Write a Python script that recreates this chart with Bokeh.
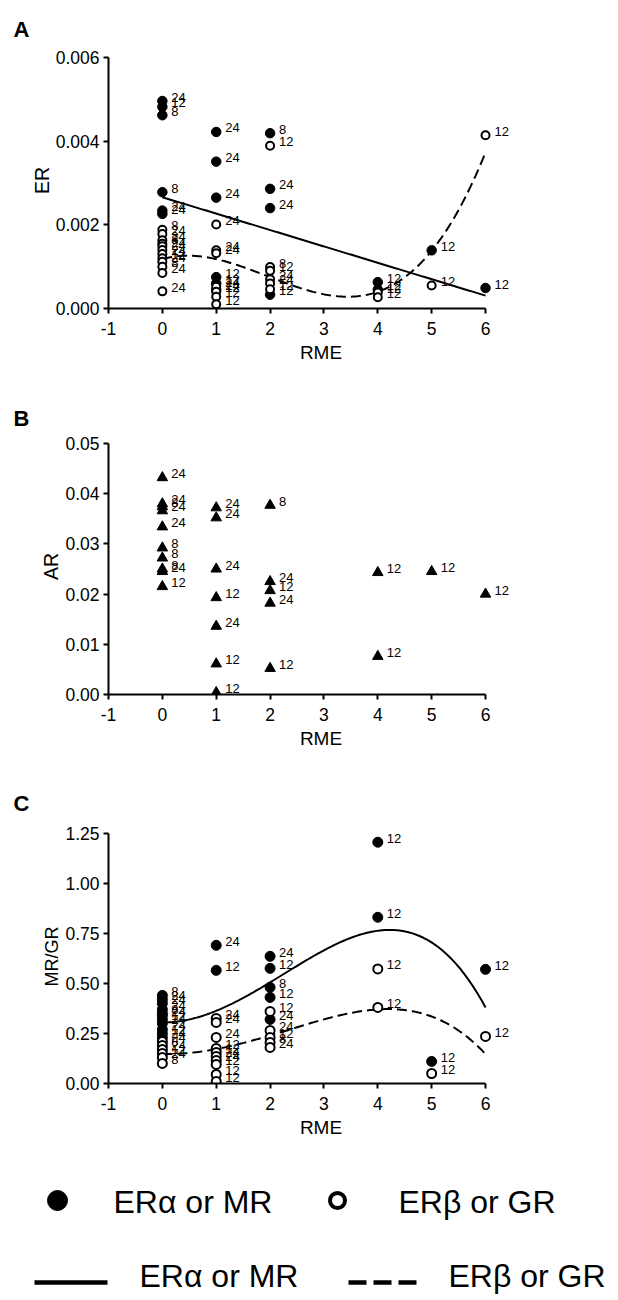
import numpy as np
from bokeh.plotting import figure
from bokeh.models import Range1d, FixedTicker, PrintfTickFormatter
from bokeh.layouts import column
from bokeh.embed import file_html
from bokeh.resources import INLINE
from bokeh.core.properties import value

FONT = "Liberation Sans"

# ---------------- data ----------------
rme_ticks = [-1, 0, 1, 2, 3, 4, 5, 6]

# Panel A : ER
a_ticks = [0.0, 0.002, 0.004, 0.006]
a_filled_x = [0, 0, 0, 0, 0, 0, 1, 1, 1, 1, 1, 1, 2, 2, 2, 2, 4, 4, 5, 6]
a_filled_y = [0.00496, 0.00482, 0.00462, 0.00278, 0.00234, 0.00226,
              0.00422, 0.00351, 0.00265, 0.00075, 0.00060, 0.00045,
              0.00419, 0.00286, 0.00240, 0.00033,
              0.00063, 0.00045, 0.00139, 0.00049]
a_filled_lab = ["24", "12", "8", "8", "24", "24",
                "24", "24", "24", "12", "12", "24",
                "8", "24", "24", "12",
                "12", "12", "12", "12"]
a_open_x = [0] * 12 + [1] * 7 + [2] * 6 + [4, 4, 5, 6]
a_open_y = [0.00188, 0.00178, 0.00163, 0.00155, 0.00149, 0.00140, 0.00130,
            0.00120, 0.00112, 0.00100, 0.00085, 0.00041,
            0.00201, 0.00139, 0.00132, 0.00052, 0.00040, 0.00028, 0.00010,
            0.00389, 0.00099, 0.00090, 0.00070, 0.00060, 0.00046,
            0.00038, 0.00027, 0.00055, 0.00414]
a_open_lab = ["8", "24", "24", "8", "24", "24", "24", "12", "24", "8", "24", "24",
              "24", "24", "24", "24", "12", "12", "12",
              "12", "8", "12", "24", "24", "12",
              "12", "12", "12", "12"]
a_solid_fit = [-0.000392, 0.00266]                    # linear fit (ERa)
a_dash_fit = [7.5e-5, -4.4e-4, 3.65e-4, 1.18e-3]      # cubic fit (ERb)

# Panel B : AR
b_ticks = [0.0, 0.01, 0.02, 0.03, 0.04, 0.05]
b_x = [0] * 10 + [1] * 7 + [2] * 5 + [4, 4, 5, 6]
b_y = [0.0432, 0.0380, 0.0374, 0.0366, 0.0334, 0.0292, 0.0272, 0.0250, 0.0245, 0.0215,
       0.0372, 0.0352, 0.0250, 0.0193, 0.0136, 0.0061, 0.0004,
       0.0377, 0.0225, 0.0207, 0.0182, 0.0052,
       0.0243, 0.0076, 0.0245, 0.0200]
b_lab = ["24", "24", "8", "24", "24", "8", "8", "8", "24", "12",
         "24", "24", "24", "12", "24", "12", "12",
         "8", "24", "12", "24", "12",
         "12", "12", "12", "12"]

# Panel C : MR/GR
c_ticks = [0.0, 0.25, 0.5, 0.75, 1.0, 1.25]
c_filled_x = [0] * 11 + [1] * 2 + [2] * 5 + [4, 4, 5, 6]
c_filled_y = [0.44, 0.42, 0.40, 0.37, 0.35, 0.34, 0.32, 0.30, 0.27, 0.25, 0.23,
              0.69, 0.565,
              0.635, 0.575, 0.48, 0.43, 0.32,
              1.205, 0.83, 0.11, 0.57]
c_filled_lab = ["8", "24", "24", "24", "8", "24", "12", "24", "24", "12", "24",
                "24", "12",
                "24", "12", "8", "12", "24",
                "12", "12", "12", "12"]
c_open_x = [0] * 6 + [1] * 10 + [2] * 5 + [4, 4, 5, 6]
c_open_y = [0.21, 0.19, 0.17, 0.15, 0.13, 0.10,
            0.325, 0.305, 0.23, 0.175, 0.155, 0.135, 0.115, 0.095, 0.045, 0.01,
            0.36, 0.265, 0.23, 0.205, 0.18,
            0.572, 0.38, 0.05, 0.235]
c_open_lab = ["24", "8", "24", "12", "24", "8",
              "24", "24", "24", "12", "12", "24", "24", "12", "12", "12",
              "12", "24", "12", "8", "24",
              "12", "12", "12", "12"]
c_solid_fit = [-0.000596, -0.007412, 0.068408, -0.0024, 0.305]   # MR fit
c_dash_fit = [-0.0005, -0.002125, 0.031375, -0.00375, 0.147]     # GR fit
fit_span = (0, 6)

legend_labels = ["ERα or MR", "ERβ or GR", "ERα or MR", "ERβ or GR"]

# ---------------- layout ----------------
W = 618
BL, BR = 108, 85
PX_PER_X = 53.86
X_END = -1 + (W - BL - BR) / PX_PER_X


def make_panel(height, top, frame_h, y_end, ticks, fmt, ylabel,
               ylabel_size, letter, letter_standoff):
    p = figure(width=W, height=height, output_backend="svg",
               toolbar_location=None,
               x_range=Range1d(-1, X_END), y_range=Range1d(0, y_end),
               min_border_left=BL, min_border_right=BR,
               min_border_top=top, min_border_bottom=height - top - frame_h)
    p.outline_line_color = None
    p.grid.visible = False
    p.background_fill_color = "white"
    p.title.text = letter
    p.title.align = "left"
    p.title.offset = -95
    p.title.standoff = letter_standoff
    p.title.text_font = FONT
    p.title.text_font_style = "bold"
    p.title.text_font_size = "22px"
    p.title.text_color = "black"
    xa, ya = p.xaxis[0], p.yaxis[0]
    xa.bounds = (-1, 6)
    xa.ticker = FixedTicker(ticks=rme_ticks)
    xa.formatter = PrintfTickFormatter(format="%d")
    ya.bounds = (0, ticks[-1])
    ya.ticker = FixedTicker(ticks=ticks)
    ya.formatter = PrintfTickFormatter(format=fmt)
    xa.axis_label = "RME"
    ya.axis_label = ylabel
    for ax in (xa, ya):
        ax.axis_line_width = 2
        ax.axis_line_color = "black"
        ax.major_tick_line_width = 2
        ax.major_tick_line_color = "black"
        ax.major_tick_out = 5
        ax.major_tick_in = 0
        ax.minor_tick_line_color = None
        ax.major_label_text_font = FONT
        ax.major_label_text_font_size = "17.5px"
        ax.major_label_text_color = "black"
        ax.axis_label_text_font = FONT
        ax.axis_label_text_font_style = "normal"
        ax.axis_label_text_color = "black"
    xa.major_label_standoff = 8
    ya.major_label_standoff = 4
    xa.axis_label_text_font_size = "19px"
    xa.axis_label_standoff = 4
    ya.axis_label_text_font_size = ylabel_size
    ya.axis_label_standoff = 0
    return p


def points(p, xs, ys, labs, kind, size):
    if kind == "filled":
        p.scatter(xs, ys, marker="circle", size=size, fill_color="black",
                  line_color="black", line_width=1)
    elif kind == "open":
        p.scatter(xs, ys, marker="circle", size=size, fill_color="white",
                  line_color="black", line_width=2)
    else:
        p.scatter(xs, ys, marker="triangle", size=size, fill_color="black",
                  line_color="black", line_width=1)
    p.text(xs, ys, text=labs, x_offset=9, y_offset=-4,
           text_font=value(FONT), text_font_size="13px",
           text_baseline="middle", text_align="left", text_color="black")


def fit_line(p, coef, dash):
    xs = np.linspace(fit_span[0], fit_span[1], 200)
    p.line(xs, np.polyval(coef, xs), line_color="black", line_width=2,
           line_dash=dash)


# Panel A
pA = make_panel(395, 52, 256, 0.0061195, a_ticks, "%.3f", "ER",
                "19.5px", "A", 21)
fit_line(pA, a_solid_fit, "solid")
fit_line(pA, a_dash_fit, "10 5")
points(pA, a_filled_x, a_filled_y, a_filled_lab, "filled", 9.5)
points(pA, a_open_x, a_open_y, a_open_lab, "open", 8)

# Panel B
pB = make_panel(375, 43, 256, 0.051, b_ticks, "%.2f", "AR",
                "19.5px", "B", 16)
points(pB, b_x, b_y, b_lab, "tri", 10.5)

# Panel C
pC = make_panel(385, 59, 254, 1.2685, c_ticks, "%.2f", "MR/GR",
                "18px", "C", 27)
fit_line(pC, c_solid_fit, "solid")
fit_line(pC, c_dash_fit, "10 5")
points(pC, c_filled_x, c_filled_y, c_filled_lab, "filled", 10)
points(pC, c_open_x, c_open_y, c_open_lab, "open", 9)

# Legend panel (pixel coordinates, y downwards)
LH = 145
pL = figure(width=W, height=LH, output_backend="svg", toolbar_location=None,
            x_range=Range1d(0, W), y_range=Range1d(LH, 0),
            x_axis_type=None, y_axis_type=None,
            min_border_left=0, min_border_right=0, min_border_top=0,
            min_border_bottom=0)
pL.frame_align = False
pL.outline_line_color = None
pL.grid.visible = False
key_row1_y, key_row2_y = 45, 127
text_row1_y, text_row2_y = 46, 120
pL.scatter([57], [key_row1_y], marker="circle", size=20, fill_color="black",
           line_color="black")
pL.scatter([337], [key_row1_y], marker="circle", size=15, fill_color="white",
           line_color="black", line_width=4)
pL.segment([34], [key_row2_y], [107], [key_row2_y], line_color="black",
           line_width=4.5)
pL.segment([348], [key_row2_y], [416], [key_row2_y], line_color="black",
           line_width=4.5, line_dash="18 7")
pL.text([113, 398, 139, 448],
        [text_row1_y, text_row1_y, text_row2_y, text_row2_y],
        text=legend_labels, text_font=value(FONT), text_font_size="32px",
        text_baseline="middle", text_align="left", text_color="black")

layout = column(pA, pB, pC, pL)
open("out.html", "w").write(file_html(layout, INLINE))
